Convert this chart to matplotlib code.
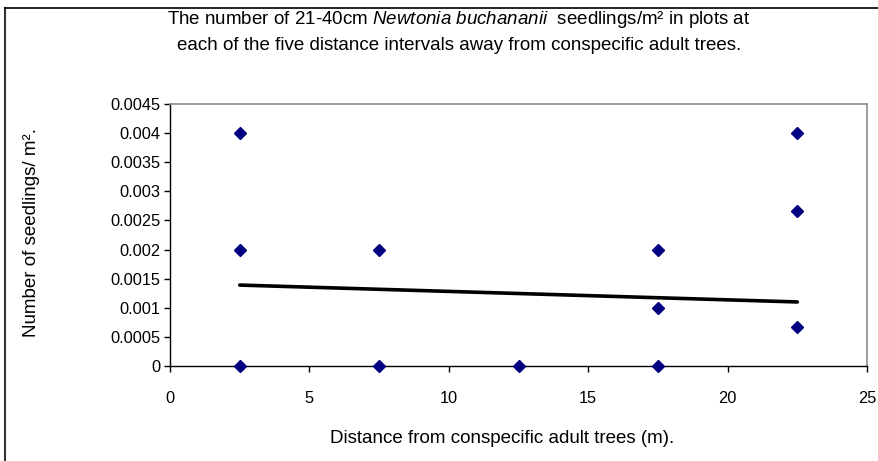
import matplotlib.pyplot as plt
from matplotlib.lines import Line2D

plt.rcParams['font.family'] = ['Liberation Sans', 'DejaVu Sans']
plt.rcParams['mathtext.fontset'] = 'custom'
plt.rcParams['mathtext.rm'] = 'Liberation Sans'
plt.rcParams['mathtext.it'] = 'Liberation Sans:italic'

# seedling density per plot at each distance interval
distance = [2.5, 2.5, 2.5, 7.5, 7.5, 12.5, 17.5, 17.5, 17.5, 22.5, 22.5, 22.5]
seedlings = [0.004, 0.002, 0.0, 0.002, 0.0, 0.0, 0.002, 0.001, 0.0,
             0.004, 0.002667, 0.000667]

# linear trend line end points
trend_x = [2.5, 22.5]
trend_y = [0.00139, 0.00110]

x_ticks = [0, 5, 10, 15, 20, 25]
y_ticks = [0, 0.0005, 0.001, 0.0015, 0.002, 0.0025, 0.003, 0.0035, 0.004, 0.0045]
y_labels = ['0', '0.0005', '0.001', '0.0015', '0.002', '0.0025', '0.003',
            '0.0035', '0.004', '0.0045']

W, H = 879, 461
fig = plt.figure(figsize=(W / 100, H / 100), dpi=100)
ax = fig.add_axes([170 / W, 1 - 366 / H, (867 - 170) / W, (366 - 104) / H])

ax.plot(trend_x, trend_y, color='black', lw=2.6, solid_capstyle='round', zorder=2)
ax.plot(distance, seedlings, 'D', color='#000080', markersize=6.5,
        linestyle='none', zorder=3, clip_on=False)

ax.set_xlim(0, 25)
ax.set_ylim(0, 0.0045)
ax.set_xticks(x_ticks)
ax.set_xticklabels([str(t) for t in x_ticks])
ax.set_yticks(y_ticks)
ax.set_yticklabels(y_labels)
ax.tick_params(axis='both', direction='out', length=4, width=1, color='black',
               labelsize=11.8)
ax.tick_params(axis='y', pad=3)
ax.tick_params(axis='x', pad=14)

for side in ['top', 'right']:
    ax.spines[side].set_color('#8c8c8c')
    ax.spines[side].set_linewidth(1.2)
for side in ['left', 'bottom']:
    ax.spines[side].set_color('black')
    ax.spines[side].set_linewidth(1.0)

fs = 13.5
fig.text(459 / W, 1 - 20 / H,
         'The number of 21-40cm $\\it{Newtonia\\ buchananii}$  seedlings/m² in plots at',
         ha='center', va='center', fontsize=fs)
fig.text(459 / W, 1 - 46 / H,
         'each of the five distance intervals away from conspecific adult trees.',
         ha='center', va='center', fontsize=fs)
fig.text(502 / W, 1 - 438 / H, 'Distance from conspecific adult trees (m).',
         ha='center', va='center', fontsize=fs)
fig.text(32 / W, 1 - 232 / H, 'Number of seedlings/ m².', rotation=90,
         ha='center', va='center', fontsize=fs)

# chart border (only left and top edges fall inside the image)
fig.add_artist(Line2D([5.5 / W, 5.5 / W], [0, 1 - 8 / H], color='#333333', lw=1.5,
                      transform=fig.transFigure))
fig.add_artist(Line2D([5.5 / W, 1], [1 - 8 / H, 1 - 8 / H], color='black', lw=1.2,
                      transform=fig.transFigure))

fig.savefig('out.png', dpi=100)
